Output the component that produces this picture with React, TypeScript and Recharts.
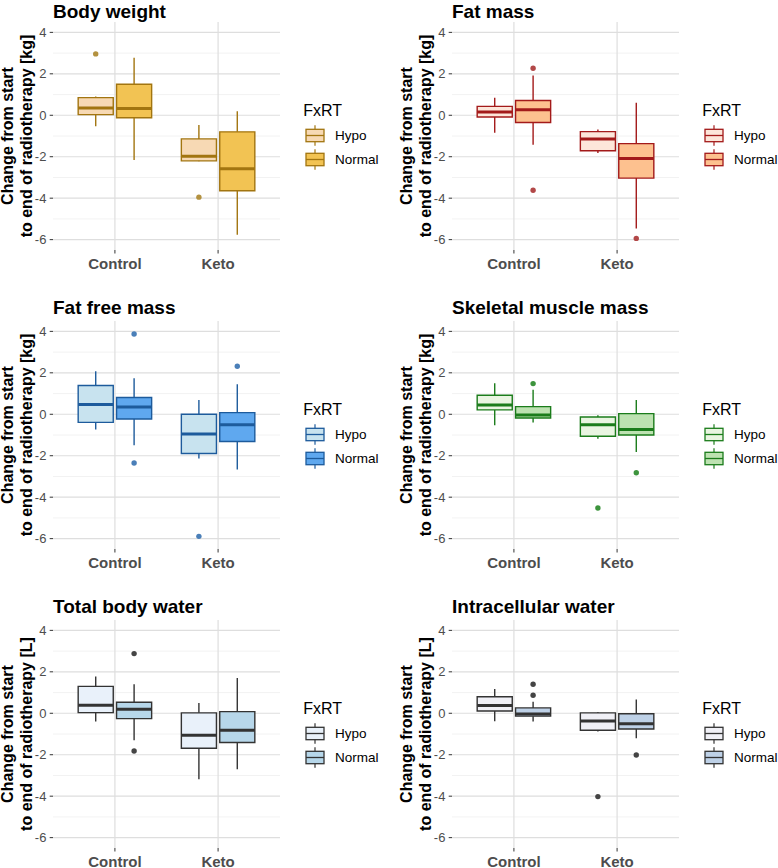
import React from "react"
import {
  ComposedChart,
  CartesianGrid,
  XAxis,
  YAxis,
  ReferenceArea,
  ReferenceLine,
  Scatter,
} from "recharts"

// categories
const groups = ["Control", "Keto"]
const fxrtLevels = ["Hypo", "Normal"]
const xTicks = [1, 2]
const yTicks = [-6, -4, -2, 0, 2, 4]
const yMinorTicks = [-5, -3, -1, 1, 3]

// box stats per panel, order: Control/Hypo, Control/Normal, Keto/Hypo, Keto/Normal
// each row: [lower whisker, q1, median, q3, upper whisker]
const bodyWeightBoxes = [
  [-0.53, 0.03, 0.35, 0.85, 0.9],
  [-2.16, -0.12, 0.33, 1.5, 2.78],
  [-2.22, -2.2, -1.98, -1.14, -0.47],
  [-5.76, -3.64, -2.58, -0.8, 0.19],
]
const bodyWeightOutliers = [[2.96], [], [-3.95], []]

const fatMassBoxes = [
  [-0.84, -0.08, 0.16, 0.43, 0.85],
  [-1.42, -0.35, 0.27, 0.71, 1.92],
  [-1.82, -1.71, -1.14, -0.79, -0.69],
  [-5.46, -3.03, -2.09, -1.37, 0.6],
]
const fatMassOutliers = [[], [2.27, -3.62], [], [-5.94]]

const fatFreeMassBoxes = [
  [-0.73, -0.39, 0.47, 1.39, 2.08],
  [-1.5, -0.23, 0.35, 0.81, 1.74],
  [-2.13, -1.89, -0.95, 0.0, 0.69],
  [-2.66, -1.31, -0.5, 0.08, 1.45],
]
const fatFreeMassOutliers = [[], [3.87, -2.35], [-5.89], [2.32]]

const skeletalMuscleBoxes = [
  [-0.53, 0.21, 0.45, 0.92, 1.5],
  [-0.4, -0.18, -0.03, 0.37, 1.18],
  [-1.18, -1.06, -0.5, -0.13, -0.05],
  [-1.82, -1.0, -0.73, 0.03, 0.69],
]
const skeletalMuscleOutliers = [[], [1.48], [-4.52], [-2.82]]

const totalWaterBoxes = [
  [-0.4, 0.03, 0.39, 1.3, 1.78],
  [-1.3, -0.26, 0.19, 0.53, 1.4],
  [-3.18, -1.69, -1.06, 0.02, 0.5],
  [-2.7, -1.41, -0.82, 0.08, 1.7],
]
const totalWaterOutliers = [[], [2.88, -1.82], [], []]

const intraWaterBoxes = [
  [-0.39, 0.11, 0.37, 0.8, 1.17],
  [-0.4, -0.14, -0.03, 0.26, 0.56],
  [-0.88, -0.82, -0.37, 0.02, 0.06],
  [-1.2, -0.76, -0.5, -0.02, 0.67],
]
const intraWaterOutliers = [[], [1.4, 0.87], [-4.02], [-2.01]]

const panels = [
  { title: "Body weight", unit: "kg", boxes: bodyWeightBoxes, outliers: bodyWeightOutliers,
    fills: ["#f7d9b4", "#f2c353"], stroke: "#a27510", dot: "#b3913f" },
  { title: "Fat mass", unit: "kg", boxes: fatMassBoxes, outliers: fatMassOutliers,
    fills: ["#fde6da", "#fdc18f"], stroke: "#a31a1a", dot: "#b24848" },
  { title: "Fat free mass", unit: "kg", boxes: fatFreeMassBoxes, outliers: fatFreeMassOutliers,
    fills: ["#c8e3ef", "#5fa8ef"], stroke: "#1d5b9c", dot: "#4a7fb8" },
  { title: "Skeletal muscle mass", unit: "kg", boxes: skeletalMuscleBoxes, outliers: skeletalMuscleOutliers,
    fills: ["#e9f5e1", "#bde2b1"], stroke: "#1b7c1b", dot: "#3d943d" },
  { title: "Total body water", unit: "L", boxes: totalWaterBoxes, outliers: totalWaterOutliers,
    fills: ["#e9f1fa", "#b7d7ea"], stroke: "#333333", dot: "#444444" },
  { title: "Intracellular water", unit: "L", boxes: intraWaterBoxes, outliers: intraWaterOutliers,
    fills: ["#f0f0f6", "#bed1e7"], stroke: "#333333", dot: "#444444" },
]

const DODGE = 0.186
const HALF = 0.17
const FONT = "'Liberation Sans', Arial, sans-serif"

// position of box i on the numeric x axis
const boxX = (i: number) => Math.floor(i / 2) + 1 + (i % 2 === 0 ? -DODGE : DODGE)

function Panel({ spec, left, top, titleY }: { spec: any; left: number; top: number; titleY: number }) {
  const points = spec.outliers.flatMap((vals: number[], i: number) =>
    vals.map((v) => ({ x: boxX(i), y: v }))
  )

  return (
    <div style={{ position: "absolute", left, top, width: 379, height: 299 }}>
      <ComposedChart width={282} height={290} margin={{ top: 22, right: 2, left: 3, bottom: 0 }}>
        <CartesianGrid
          horizontalValues={yMinorTicks}
          vertical={false}
          syncWithTicks
          stroke="#f1f1f1"
          strokeWidth={0.9}
        />
        <CartesianGrid
          horizontalValues={yTicks}
          verticalValues={xTicks}
          syncWithTicks
          stroke="#dedede"
          strokeWidth={1.2}
        />
        <XAxis
          type="number"
          dataKey="x"
          domain={[0.4, 2.6]}
          ticks={xTicks}
          tickFormatter={(v) => groups[v - 1]}
          height={40}
          axisLine={false}
          tickSize={3.5}
          tickMargin={4.5}
          tickLine={{ stroke: "#333333" }}
          tick={{ fill: "#4d4d4d", fontSize: 15, fontWeight: 700 }}
          allowDataOverflow
        />
        <YAxis
          type="number"
          dataKey="y"
          domain={[-6.5, 4.5]}
          ticks={yTicks}
          width={50}
          axisLine={false}
          tickSize={3.3}
          tickMargin={3.3}
          tickLine={{ stroke: "#333333" }}
          tick={{ fill: "#4d4d4d", fontSize: 13 }}
          allowDataOverflow
        />
        {spec.boxes.map((b: number[], i: number) => {
          const cx = boxX(i)
          return (
            <React.Fragment key={i}>
              <ReferenceLine
                segment={[{ x: cx, y: b[3] }, { x: cx, y: b[4] }]}
                stroke={spec.stroke}
                strokeWidth={1.4}
              />
              <ReferenceLine
                segment={[{ x: cx, y: b[0] }, { x: cx, y: b[1] }]}
                stroke={spec.stroke}
                strokeWidth={1.4}
              />
              <ReferenceArea
                x1={cx - HALF}
                x2={cx + HALF}
                y1={b[1]}
                y2={b[3]}
                fill={spec.fills[i % 2]}
                fillOpacity={1}
                stroke={spec.stroke}
                strokeWidth={1.4}
              />
              <ReferenceLine
                segment={[{ x: cx - HALF, y: b[2] }, { x: cx + HALF, y: b[2] }]}
                stroke={spec.stroke}
                strokeWidth={3}
              />
            </React.Fragment>
          )
        })}
        <Scatter
          data={points}
          isAnimationActive={false}
          shape={(p: any) => <circle cx={p.cx} cy={p.cy} r={2.7} fill={spec.dot} />}
        />
      </ComposedChart>
      <svg
        width={379}
        height={299}
        style={{ position: "absolute", left: 0, top: 0, pointerEvents: "none", overflow: "visible" }}
      >
        <text x={53} y={titleY} fontSize={19} fontWeight={700} fill="#000">
          {spec.title}
        </text>
        <text transform="translate(13.3,136) rotate(-90)" textAnchor="middle" fontSize={16} fontWeight={700}>
          Change from start
        </text>
        <text transform="translate(31.7,136) rotate(-90)" textAnchor="middle" fontSize={16} fontWeight={700}>
          {`to end of radiotherapy [${spec.unit}]`}
        </text>
        <text x={303.3} y={116} fontSize={16} fill="#000">
          FxRT
        </text>
        {fxrtLevels.map((lvl, k) => {
          const cy = 135.5 + k * 24
          return (
            <g key={lvl}>
              <line x1={315} x2={315} y1={cy - 10.2} y2={cy + 10.2} stroke={spec.stroke} strokeWidth={1.2} />
              <rect x={306} y={cy - 6.2} width={18} height={12.4} fill={spec.fills[k]} stroke={spec.stroke} strokeWidth={1.3} />
              <line x1={306} x2={324} y1={cy} y2={cy} stroke={spec.stroke} strokeWidth={1.3} />
              <text x={335} y={cy + 4.8} fontSize={13.5} fill="#000">
                {lvl}
              </text>
            </g>
          )
        })}
      </svg>
    </div>
  )
}

export default function App() {
  return (
    <div
      style={{
        position: "absolute",
        left: 0,
        top: 0,
        width: 778,
        height: 868,
        background: "#fff",
        fontFamily: FONT,
      }}
    >
      {panels.map((spec, i) => (
        <Panel
          key={spec.title}
          spec={spec}
          left={(i % 2) * 399}
          top={Math.floor(i / 2) * 299}
          titleY={i < 2 ? 17.5 : 15}
        />
      ))}
    </div>
  )
}
